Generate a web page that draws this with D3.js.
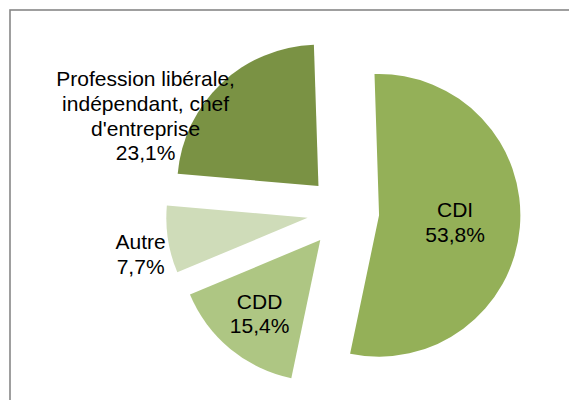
<!DOCTYPE html>
<html>
<head>
<meta charset="utf-8">
<script src="https://d3js.org/d3.v7.min.js"></script>
<style>
  body { margin: 0; background: #fff; }
  svg { display: block; }
</style>
</head>
<body>
<svg id="chart"></svg>
<script>
// データ
const categories = ['CDI', 'CDD', 'Autre', "Profession libérale, indépendant, chef d'entreprise"];
const values = [53.8, 15.4, 7.7, 23.1];
const nameLines = [['CDI'], ['CDD'], ['Autre'], ['Profession libérale,', 'indépendant, chef', "d'entreprise"]];
const percentLabels = ['53,8%', '15,4%', '7,7%', '23,1%'];
const colors = ['#94b058', '#aec683', '#cfdcb9', '#7a9244'];

class PieChart {
    constructor (config, data) {
        this.config = {
            parent: config.parent,
            width: config.width || 256,
            height: config.height || 256,
            cx: config.cx,
            cy: config.cy,
            radius: config.radius || 100,
            explode: config.explode || 0,
            startDeg: config.startDeg || 0
        };
        this.data = data;
        this.init();
    }

    init() {
        let self = this;

        self.svg = d3.select(self.config.parent)
            .attr('width', self.config.width)
            .attr('height', self.config.height);

        // 枠線
        self.svg.append('rect')
            .attr('x', 10)
            .attr('y', 10)
            .attr('width', self.config.width + 20)
            .attr('height', self.config.height + 20)
            .attr('fill', 'none')
            .attr('stroke', '#878787')
            .attr('stroke-width', 1.6);

        self.chart = self.svg.append('g')
            .attr('transform', `translate(${self.config.cx}, ${self.config.cy})`);

        self.color = d3.scaleOrdinal()
            .domain(categories)
            .range(colors);

        const start = self.config.startDeg * Math.PI / 180;
        self.pie = d3.pie()
            .sort(null)
            .value(d => d.value)
            .startAngle(start)
            .endAngle(start + 2 * Math.PI);

        self.arc = d3.arc()
            .innerRadius(0)
            .outerRadius(self.config.radius);
    }

    update() {
        let self = this;
        self.slices = self.pie(self.data);
        self.render();
    }

    render() {
        let self = this;
        const e = self.config.explode;
        const r = self.config.radius;

        // 切り離し方向
        const offset = (d, dist) => {
            const a = (d.startAngle + d.endAngle) / 2;
            return [Math.sin(a) * dist, -Math.cos(a) * dist];
        };

        const g = self.chart.selectAll('.slice')
            .data(self.slices)
            .join('g')
            .attr('class', 'slice')
            .attr('transform', d => `translate(${offset(d, e)})`);

        g.append('path')
            .attr('d', self.arc)
            .attr('fill', d => self.color(d.data.name));

        // ラベル (中心からの距離と角度のずれ)
        const labelPlace = [
            {dist: 0.54, shift: 0},
            {dist: 0.675, shift: 0},
            {dist: 1.21, shift: -3.5},
            {dist: 1.32, shift: -24.5}
        ];
        const lineH = 24.6;

        g.append('text')
            .attr('text-anchor', 'middle')
            .style('font-family', 'Arial, "Liberation Sans", sans-serif')
            .style('font-size', '21px')
            .attr('fill', '#000')
            .each(function(d, i) {
                const p = labelPlace[i];
                const a = (d.startAngle + d.endAngle) / 2 + p.shift * Math.PI / 180;
                const x = Math.sin(a) * r * p.dist;
                const y = -Math.cos(a) * r * p.dist;
                const lines = d.data.lines.concat([d.data.pct]);
                const top = y - (lines.length - 1) * lineH / 2;
                d3.select(this).selectAll('tspan')
                    .data(lines)
                    .join('tspan')
                    .attr('x', x)
                    .attr('y', (t, j) => top + j * lineH)
                    .attr('dy', '0.35em')
                    .text(t => t);
            });
    }
}

const data = categories.map((c, i) => ({
    name: c,
    value: values[i],
    lines: nameLines[i],
    pct: percentLabels[i]
}));

const pieChart = new PieChart({
    parent: '#chart',
    width: 569,
    height: 400,
    cx: 343.2,
    cy: 212.2,
    radius: 141.3,
    explode: 36,
    startDeg: -1.85
}, data);
pieChart.update();
</script>
</body>
</html>
